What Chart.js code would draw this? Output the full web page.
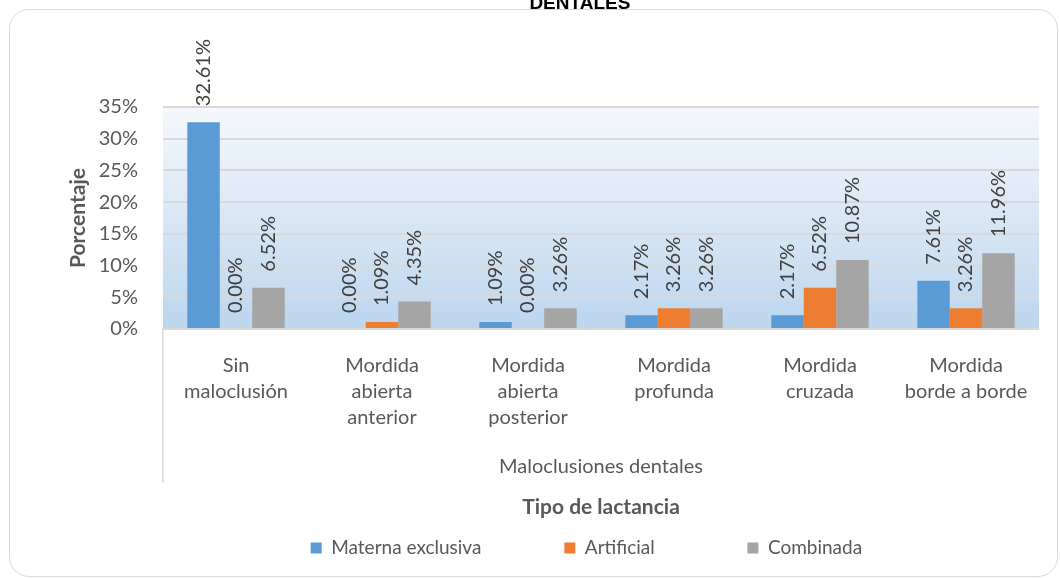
<!DOCTYPE html>
<html>
<head>
<meta charset="utf-8">
<script src="https://cdn.jsdelivr.net/npm/chart.js@4.4.0/dist/chart.umd.min.js"></script>
<style>
  html, body { margin: 0; padding: 0; background: #fff; overflow: hidden; }
  #wrap { position: relative; width: 1060px; height: 578px; }
  #marco {
    position: absolute; left: 9px; top: 9px; width: 1047px; height: 566px;
    border: 1.5px solid #d9d9d9; border-radius: 20px; pointer-events: none;
  }
</style>
</head>
<body>
<div id="wrap">
  <canvas id="grafico"></canvas>
  <div id="marco"></div>
</div>
<script>
// Datos (porcentajes)
const categorias = [
  ['Sin', 'maloclusión'],
  ['Mordida', 'abierta', 'anterior'],
  ['Mordida', 'abierta', 'posterior'],
  ['Mordida', 'profunda'],
  ['Mordida', 'cruzada'],
  ['Mordida', 'borde a borde']
];
const materna = [32.61, 0.00, 1.09, 2.17, 2.17, 7.61];
const artificial = [0.00, 1.09, 0.00, 3.26, 6.52, 3.26];
const combinada = [6.52, 4.35, 3.26, 3.26, 10.87, 11.96];
const series = ['Materna exclusiva', 'Artificial', 'Combinada'];
const ticksY = [0, 5, 10, 15, 20, 25, 30, 35];

const colores = ['#5b9bd5', '#ed7d31', '#a5a5a5'];
const gris = '#595959';
const fuente = 'Lato, "Open Sans", sans-serif';
const fuenteTitulo = '"Liberation Sans", Arial, sans-serif';

// rellena con espacios hasta sumar px extra (para separar items de la leyenda)
const medidor = document.createElement('canvas').getContext('2d');
function conEspacio(texto, px, font) {
  medidor.font = font;
  const base = medidor.measureText(texto).width;
  let t = texto;
  while (medidor.measureText(t + ' ').width - base <= px) t += ' ';
  return t;
}
const extraLeyenda = [76, 86, 30];

// fondo degradado del area de trazado
const fondoPlot = {
  id: 'fondoPlot',
  beforeDraw(chart) {
    const { ctx, chartArea: a } = chart;
    const g = ctx.createLinearGradient(0, a.top, 0, a.bottom);
    g.addColorStop(0, '#f5f8fc');
    g.addColorStop(1, '#bcd6ee');
    ctx.save();
    ctx.fillStyle = g;
    ctx.fillRect(a.left, a.top, a.right - a.left, a.bottom - a.top);
    ctx.restore();
  }
};

// etiquetas de valor verticales sobre cada barra
const etiquetas = {
  id: 'etiquetas',
  afterDatasetsDraw(chart) {
    const ctx = chart.ctx;
    ctx.save();
    ctx.font = '20px ' + fuente;
    ctx.fillStyle = '#404040';
    ctx.textAlign = 'left';
    ctx.textBaseline = 'middle';
    chart.data.datasets.forEach((ds, i) => {
      chart.getDatasetMeta(i).data.forEach((bar, j) => {
        ctx.save();
        ctx.translate(bar.x, bar.y - 16);
        ctx.rotate(-Math.PI / 2);
        ctx.fillText(ds.data[j].toFixed(2) + '%', 0, 0);
        ctx.restore();
      });
    });
    ctx.restore();
  }
};

const ctx = document.getElementById('grafico').getContext('2d');
const grafico = new Chart(ctx, {
  type: 'bar',
  data: {
    labels: categorias,
    datasets: [
      { label: series[0], data: materna, backgroundColor: colores[0] },
      { label: series[1], data: artificial, backgroundColor: colores[1] },
      { label: series[2], data: combinada, backgroundColor: colores[2] }
    ]
  },
  options: {
    responsive: true,
    maintainAspectRatio: false,
    animation: false,
    categoryPercentage: 0.667,
    barPercentage: 1.0,
    layout: { padding: { top: 0, left: 0, right: 21, bottom: 10.5 } },
    plugins: {
      title: {
        display: true,
        fullSize: false,
        text: conEspacio('DENTALES', 46, 'bold 19px ' + fuenteTitulo),
        color: '#000',
        font: { family: fuenteTitulo, size: 19, weight: 'bold' },
        padding: { top: -7.5, bottom: 91.7 }
      },
      legend: {
        display: true,
        position: 'bottom',
        fullSize: false,
        title: {
          display: true,
          text: 'Tipo de lactancia',
          color: gris,
          font: { family: fuente, size: 21, weight: 'bold' },
          padding: { top: 0, bottom: 6.8 }
        },
        labels: {
          color: gris,
          font: { family: fuente, size: 19 },
          boxWidth: 11,
          boxHeight: 11,
          padding: 10,
          generateLabels(chart) {
            const items = Chart.defaults.plugins.legend.labels.generateLabels(chart);
            items.forEach((it, i) => {
              it.text = conEspacio(it.text, extraLeyenda[i], '19px ' + fuente);
              it.lineWidth = 0;
            });
            return items;
          }
        }
      },
      tooltip: { enabled: false }
    },
    scales: {
      x: {
        offset: true,
        grid: {
          offset: true,
          drawOnChartArea: false,
          drawTicks: true,
          tickLength: 154,
          lineWidth: 1.5,
          color: (c) => (c.index === 0 || c.index === categorias.length) ? '#d9d9d9' : 'rgba(0,0,0,0)'
        },
        border: { display: true, color: '#d9d9d9', width: 1.5 },
        ticks: {
          color: gris,
          font: { family: fuente, size: 20, lineHeight: 1.3 },
          padding: -130,
          maxRotation: 0,
          autoSkip: false
        },
        title: {
          display: true,
          text: 'Maloclusiones dentales',
          color: gris,
          font: { family: fuente, size: 20 },
          padding: { top: 0, bottom: 17.5 }
        },
        afterFit(s) { s.height = 167.5; }
      },
      y: {
        min: 0,
        max: 35,
        afterBuildTicks(s) { s.ticks = ticksY.map(v => ({ value: v })); },
        grid: { color: '#d9d9d9', lineWidth: 2, drawTicks: false },
        border: { display: false },
        ticks: {
          color: gris,
          font: { family: fuente, size: 20 },
          padding: 25,
          callback: (v) => v + '%'
        },
        title: {
          display: true,
          text: 'Porcentaje',
          color: gris,
          font: { family: fuente, size: 21, weight: 'bold' },
          padding: { top: 65.4, bottom: 0 }
        },
        afterFit(s) { s.width = 163; }
      }
    }
  },
  plugins: [fondoPlot, etiquetas]
});
</script>
</body>
</html>
